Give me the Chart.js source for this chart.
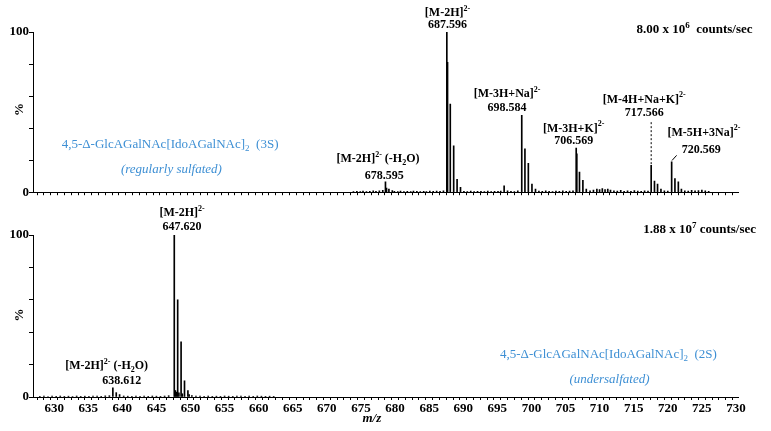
<!DOCTYPE html>
<html>
<head>
<meta charset="utf-8">
<script src="https://cdn.jsdelivr.net/npm/chart.js@4/dist/chart.umd.min.js"></script>
<style>
  html, body { margin: 0; padding: 0; background: #fff; }
  #wrap { position: relative; width: 771px; height: 431px; }
  #top  { position: absolute; left: 0; top: 0; }
  #bot  { position: absolute; left: 0; top: 200px; }
</style>
</head>
<body>
<div id="wrap">
  <canvas id="top" width="771" height="200" style="width:771px;height:200px"></canvas>
  <canvas id="bot" width="771" height="231" style="width:771px;height:231px"></canvas>
</div>
<script>
'use strict';

// ── Data: upper spectrum (3S, regularly sulfated) ──────────────
const topPeakMz  = [678.595, 678.75, 679.10, 679.60,
                    687.596, 687.70, 688.10, 688.60, 689.10, 689.60,
                    696.00,
                    698.584, 699.05, 699.55, 700.08, 700.60,
                    706.569, 706.66, 707.05, 707.55, 708.05,
                    717.566, 718.05, 718.50, 719.00,
                    720.569, 721.05, 721.55, 722.00];
const topPeakPct = [6.4, 2.5, 2.0, 1.0,
                    100, 81, 55, 29, 8, 3,
                    4,
                    48, 27, 18, 5, 2,
                    27.5, 24, 12.6, 7.4, 2,
                    16.7, 7, 5, 2,
                    19, 8.5, 6.4, 2];
const topNoiseMz  = [673.9, 674.4, 674.9, 675.3, 675.8, 676.3, 676.8, 677.2, 677.7, 678.2,
                     679.9, 680.4, 680.8, 681.3, 681.8, 682.3, 682.7, 683.2, 683.7, 684.2,
                     684.6, 685.1, 685.6, 686.1, 686.6, 687.1, 690.1, 690.6, 691.1, 691.6,
                     692.1, 692.6, 693.1, 693.6, 694.1, 694.6, 695.1, 695.5, 696.5, 697.0,
                     697.5, 698.0, 701.1, 701.6, 702.1, 702.6, 703.1, 703.6, 704.1, 704.6,
                     705.1, 705.6, 706.1, 708.6, 709.1, 709.6, 710.0, 710.4, 710.8, 711.2,
                     711.6, 712.1, 712.6, 713.1, 713.6, 714.1, 714.6, 715.1, 715.6, 716.1,
                     716.6, 717.1, 719.5, 720.0, 722.5, 723.0, 723.5, 724.0, 724.5, 725.0,
                     725.5, 726.0];
const topNoisePct = [0.3, 0.6, 0.4, 0.7, 0.4, 0.6, 0.8, 0.5, 0.9, 1.1,
                     0.6, 0.4, 0.7, 0.4, 0.6, 0.4, 0.7, 0.5, 0.4, 0.6,
                     0.4, 0.7, 0.5, 0.7, 0.6, 0.9, 0.6, 0.4, 0.7, 0.4,
                     0.5, 0.6, 0.4, 0.7, 0.4, 0.5, 0.6, 0.7, 0.9, 0.6,
                     0.4, 0.8, 0.7, 0.5, 0.9, 0.6, 0.4, 0.7, 0.5, 0.8,
                     0.6, 0.7, 0.9, 0.9, 1.3, 2.0, 1.6, 2.2, 1.7, 2.0,
                     1.4, 0.9, 0.7, 1.1, 0.6, 0.8, 0.6, 1.0, 0.7, 0.6,
                     0.8, 0.7, 0.9, 0.7, 0.9, 0.7, 1.1, 0.8, 1.0, 1.4,
                     0.9, 0.5];

// ── Data: lower spectrum (2S, undersulfated) ───────────────────
const botPeakMz  = [638.612, 639.11, 639.60,
                    647.620, 647.78, 647.95, 648.12, 648.30, 648.62, 648.80,
                    649.12, 649.62, 649.80];
const botPeakPct = [5.6, 2.7, 1.5,
                    100, 4, 3, 60, 2.5, 34, 2,
                    10, 4, 1.5];
const botNoiseMz  = [627.9, 628.5, 629.1, 629.7, 630.3, 630.9, 631.5, 632.1, 632.7, 633.3,
                     633.9, 634.5, 635.1, 635.7, 636.3, 636.9, 637.5, 638.1, 640.2, 640.8,
                     641.4, 642.0, 642.6, 643.2, 643.8, 644.4, 645.0, 645.6, 646.2, 646.8,
                     650.2, 650.8, 651.4, 652.0, 652.6, 653.2, 653.8, 654.4, 655.0, 655.6,
                     656.2, 656.8, 657.4, 658.0, 658.6, 659.2, 659.8, 660.4, 661.0, 661.6,
                     662.2];
const botNoisePct = [0.4, 0.6, 0.3, 0.5, 0.4, 0.6, 0.4, 0.5, 0.3, 0.6,
                     0.4, 0.5, 0.4, 0.6, 0.5, 0.4, 0.7, 0.8, 0.6, 0.5,
                     0.4, 0.6, 0.4, 0.5, 0.4, 0.6, 0.5, 0.4, 0.6, 0.8,
                     0.8, 0.6, 0.5, 0.4, 0.6, 0.4, 0.5, 0.4, 0.6, 0.5,
                     0.4, 0.5, 0.6, 0.4, 0.5, 0.4, 0.6, 0.5, 0.4, 0.5,
                     0.4];

// ── Axis range ─────────────────────────────────────────────────
const MZ_MIN = 626.9;
const MZ_MAX = 730.3;

// ── Styles ─────────────────────────────────────────────────────
const SERIF = "'Liberation Serif', 'Times New Roman', serif";
const BLUE  = '#3d8fd4';
const INK   = '#000000';

// ── Text annotations (positioned in m/z, % units) ──────────────
const topNotes = [
  { mz: 687.69, pct: 111.8, text: '[M-2H]^{2-}', size: 12 },
  { mz: 687.69, pct: 104.3, text: '687.596', size: 12 },
  { mz: 715.4,  pct: 101.2, text: '8.00 x 10^{6}  counts/sec', align: 'left' },
  { mz: 696.43, pct: 61.5,  text: '[M-3H+Na]^{2-}', size: 12 },
  { mz: 696.43, pct: 52.8,  text: '698.584', size: 12 },
  { mz: 706.2,  pct: 39.8,  text: '[M-3H+K]^{2-}', size: 12 },
  { mz: 706.2,  pct: 32.3,  text: '706.569', size: 12 },
  { mz: 716.55, pct: 57.8,  text: '[M-4H+Na+K]^{2-}', size: 12 },
  { mz: 716.55, pct: 49.7,  text: '717.566', size: 12 },
  { mz: 725.3,  pct: 37.3,  text: '[M-5H+3Na]^{2-}', size: 12 },
  { mz: 724.9,  pct: 26.7,  text: '720.569', size: 12 },
  { mz: 677.5,  pct: 20.5,  text: '[M-2H]^{2-} (-H_{2}O)', size: 12 },
  { mz: 678.4,  pct: 9.9,   text: '678.595', size: 12 },
  { mz: 631.1,  pct: 29.8,  text: '4,5-\u0394-GlcAGalNAc[IdoAGalNAc]_{2}  (3S)', align: 'left', weight: 'normal', color: BLUE },
  { mz: 647.2,  pct: 14.3,  text: '(regularly sulfated)', weight: 'italic', color: BLUE },
  { mz: 625.0,  pct: 51.6,  text: '%', rot: true },
];
const topLeaders = [
  { from: [717.566, 17.5], to: [717.566, 44.3], dash: true },
  { from: [720.62, 19.8],  to: [721.30, 23.0], dash: false },
];

const botNotes = [
  { mz: 648.77, pct: 113.6, text: '[M-2H]^{2-}', size: 12 },
  { mz: 648.77, pct: 105.0, text: '647.620', size: 12 },
  { mz: 716.4,  pct: 103.0, text: '1.88 x 10^{7} counts/sec', align: 'left' },
  { mz: 637.7,  pct: 19.1,  text: '[M-2H]^{2-} (-H_{2}O)', size: 12 },
  { mz: 639.9,  pct: 9.9,   text: '638.612', size: 12 },
  { mz: 695.4,  pct: 25.9,  text: '4,5-\u0394-GlcAGalNAc[IdoAGalNAc]_{2}  (2S)', align: 'left', weight: 'normal', color: BLUE },
  { mz: 711.45, pct: 10.5,  text: '(undersalfated)', weight: 'italic', color: BLUE },
  { mz: 625.0,  pct: 50.6,  text: '%', rot: true },
  { mz: 676.6,  pct: -13.6, text: 'm/z', weight: 'bold italic' },
];

// ── Helpers ────────────────────────────────────────────────────
function points(xs, ys) {
  return xs.map((x, i) => ({ x, y: ys[i] }));
}

function richParts(str) {
  const parts = [];
  const re = /([\^_])\{([^}]*)\}/g;
  let last = 0, m;
  while ((m = re.exec(str))) {
    if (m.index > last) parts.push({ t: str.slice(last, m.index), k: 'n' });
    parts.push({ t: m[2], k: m[1] === '^' ? 'sup' : 'sub' });
    last = re.lastIndex;
  }
  if (last < str.length) parts.push({ t: str.slice(last), k: 'n' });
  return parts;
}

function drawRich(ctx, note, px, py) {
  const size  = note.size || 13;
  const small = Math.round(size * 0.68);
  const style = note.weight || 'bold';
  const fontFor = k => `${style} ${k === 'n' ? size : small}px ${SERIF}`;
  const parts = richParts(note.text);
  let width = 0;
  parts.forEach(p => { ctx.font = fontFor(p.k); p.w = ctx.measureText(p.t).width; width += p.w; });
  let x = note.align === 'left' ? px : px - width / 2;
  ctx.fillStyle = note.color || INK;
  ctx.textBaseline = 'middle';
  ctx.textAlign = 'left';
  parts.forEach(p => {
    const dy = p.k === 'sup' ? -size * 0.35 : p.k === 'sub' ? size * 0.3 : 0;
    ctx.font = fontFor(p.k);
    ctx.fillText(p.t, x, py + dy);
    x += p.w;
  });
}

function notesPlugin(notes, leaders = []) {
  return {
    id: 'notes',
    afterDraw(chart) {
      const { ctx, scales: { x, y } } = chart;
      ctx.save();
      leaders.forEach(l => {
        ctx.beginPath();
        ctx.strokeStyle = INK;
        ctx.lineWidth = 1;
        ctx.setLineDash(l.dash ? [2, 2] : []);
        ctx.moveTo(x.getPixelForValue(l.from[0]), y.getPixelForValue(l.from[1]));
        ctx.lineTo(x.getPixelForValue(l.to[0]), y.getPixelForValue(l.to[1]));
        ctx.stroke();
      });
      ctx.setLineDash([]);
      notes.forEach(n => {
        const px = x.getPixelForValue(n.mz);
        const py = y.getPixelForValue(n.pct);
        if (n.rot) {
          ctx.save();
          ctx.translate(px, py);
          ctx.rotate(-Math.PI / 2);
          drawRich(ctx, n, 0, 0);
          ctx.restore();
        } else {
          drawRich(ctx, n, px, py);
        }
      });
      ctx.restore();
    },
  };
}

const TICK_FONT = { family: SERIF, size: 13, weight: 'bold' };

function spectrumOptions(showMzLabels, padTop, xHeight) {
  return {
    responsive: false,
    animation:  false,
    layout: { padding: { top: padTop, right: 33, left: 0, bottom: 0 } },
    plugins: { legend: { display: false }, tooltip: { enabled: false } },
    scales: {
      x: {
        type: 'linear',
        min: MZ_MIN,
        max: MZ_MAX,
        offset: false,
        border: { display: true, color: INK, width: 1 },
        grid:   { display: true, drawOnChartArea: false, drawTicks: true, tickLength: 3, color: INK },
        ticks: {
          stepSize: 1,
          autoSkip: false,
          includeBounds: false,
          maxRotation: 0,
          padding: 1,
          color: INK,
          font: TICK_FONT,
          callback: v => (showMzLabels && Math.abs(v - Math.round(v / 5) * 5) < 1e-6) ? Math.round(v) : '',
        },
        afterFit: s => { s.height = xHeight; },
      },
      y: {
        min: 0,
        max: 100,
        border: { display: true, color: INK, width: 1 },
        grid:   { display: true, drawOnChartArea: false, drawTicks: true, tickLength: 4, color: INK },
        ticks: {
          stepSize: 10,
          padding: 0,
          color: INK,
          font: TICK_FONT,
          callback: v => (v === 0 || v === 100) ? v : '',
        },
        afterFit: s => { s.width = 33; },
      },
    },
  };
}

function stickDataset(xs, ys) {
  return {
    data: points(xs, ys),
    backgroundColor: INK,
    borderWidth: 0,
    barThickness: 1,
    grouped: false,
  };
}

// ── Charts ─────────────────────────────────────────────────────
new Chart(document.getElementById('top').getContext('2d'), {
  type: 'bar',
  data: {
    datasets: [
      stickDataset(topNoiseMz, topNoisePct),
      stickDataset(topPeakMz, topPeakPct),
    ],
  },
  options: spectrumOptions(false, 32, 7),
  plugins: [notesPlugin(topNotes, topLeaders)],
});

new Chart(document.getElementById('bot').getContext('2d'), {
  type: 'bar',
  data: {
    datasets: [
      stickDataset(botNoiseMz, botNoisePct),
      stickDataset(botPeakMz, botPeakPct),
    ],
  },
  options: spectrumOptions(true, 35, 34),
  plugins: [notesPlugin(botNotes)],
});
</script>
</body>
</html>
